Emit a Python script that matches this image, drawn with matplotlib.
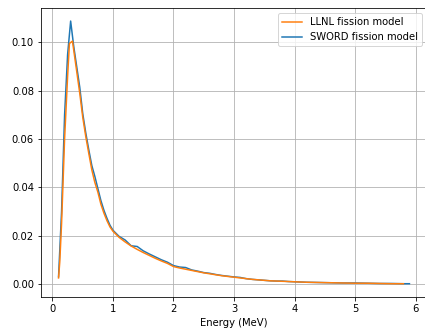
import numpy as np
import matplotlib
matplotlib.use("Agg")
import matplotlib.pyplot as plt

# energy grid (MeV)
energy_sword = [0.10, 0.15, 0.20, 0.25, 0.30, 0.35, 0.40, 0.45, 0.50, 0.55,
                0.60, 0.65, 0.70, 0.75, 0.80, 0.85, 0.90, 0.95, 1.00,
                1.1, 1.2, 1.3, 1.4, 1.5, 1.6, 1.7, 1.8, 1.9, 2.0,
                2.1, 2.2, 2.3, 2.4, 2.5, 2.6, 2.7, 2.8, 2.9, 3.0,
                3.1, 3.2, 3.3, 3.4, 3.5, 3.6, 3.7, 3.8, 3.9, 4.0,
                4.2, 4.4, 4.6, 4.8, 5.0, 5.2, 5.4, 5.6, 5.8, 5.9]
sword = [0.0030, 0.0300, 0.0700, 0.0950, 0.1088, 0.0985, 0.0900, 0.0815, 0.0705, 0.0625,
         0.0555, 0.0490, 0.0445, 0.0395, 0.0345, 0.0305, 0.0272, 0.0243, 0.0222,
         0.0197, 0.0182, 0.0158, 0.0155, 0.0137, 0.0124, 0.0112, 0.0100, 0.0090, 0.0076,
         0.0070, 0.0068, 0.0058, 0.0053, 0.0047, 0.0044, 0.0039, 0.0035, 0.0032, 0.0029,
         0.0027, 0.0022, 0.0019, 0.0017, 0.0015, 0.0013, 0.0012, 0.0012, 0.0010, 0.0009,
         0.0007, 0.0006, 0.0005, 0.0004, 0.0004, 0.0003, 0.0002, 0.0002, 0.0001, 0.0001]

energy_llnl = [0.10, 0.12, 0.15, 0.20, 0.25, 0.28, 0.33, 0.40, 0.45, 0.50, 0.55,
               0.60, 0.65, 0.70, 0.75, 0.80, 0.85, 0.90, 0.95, 1.00,
               1.1, 1.2, 1.3, 1.4, 1.5, 1.6, 1.7, 1.8, 1.9, 2.0,
               2.1, 2.2, 2.3, 2.4, 2.5, 2.6, 2.7, 2.8, 2.9, 3.0,
               3.1, 3.2, 3.3, 3.4, 3.5, 3.6, 3.7, 3.8, 3.9, 4.0,
               4.2, 4.4, 4.6, 4.8, 5.0, 5.2, 5.4, 5.6, 5.8]
llnl = [0.0025, 0.0090, 0.0250, 0.0600, 0.0860, 0.0995, 0.1005, 0.0880, 0.0790, 0.0690, 0.0610,
        0.0540, 0.0472, 0.0420, 0.0380, 0.0330, 0.0293, 0.0262, 0.0236, 0.0218,
        0.0193, 0.0174, 0.0157, 0.0143, 0.0130, 0.0118, 0.0106, 0.0095, 0.0085, 0.0072,
        0.0066, 0.0061, 0.0056, 0.0051, 0.0046, 0.0042, 0.0038, 0.0034, 0.0031, 0.0028,
        0.0025, 0.0022, 0.0019, 0.0017, 0.0015, 0.0013, 0.0012, 0.0011, 0.0010, 0.0009,
        0.0007, 0.0006, 0.0005, 0.0004, 0.0003, 0.0003, 0.0002, 0.0001, 0.0001]

fig = plt.figure(figsize=(425 / 72, 333 / 72), dpi=72)
ax = fig.add_axes([41 / 425, 36 / 333, 386 / 425, 289 / 333])

l_sword, = ax.plot(energy_sword, sword, color='C0', label='SWORD fission model')
l_llnl, = ax.plot(energy_llnl, llnl, color='C1', label='LLNL fission model')

ax.set_xlim(-0.19, 6.19)
ax.set_ylim(-0.0054, 0.1142)
ax.set_yticks(np.arange(0, 0.101, 0.02))
ax.set_xlabel('Energy (MeV)')
ax.grid(True)
ax.legend(handles=[l_llnl, l_sword], loc='upper right')

plt.savefig('out.png', dpi=72)
